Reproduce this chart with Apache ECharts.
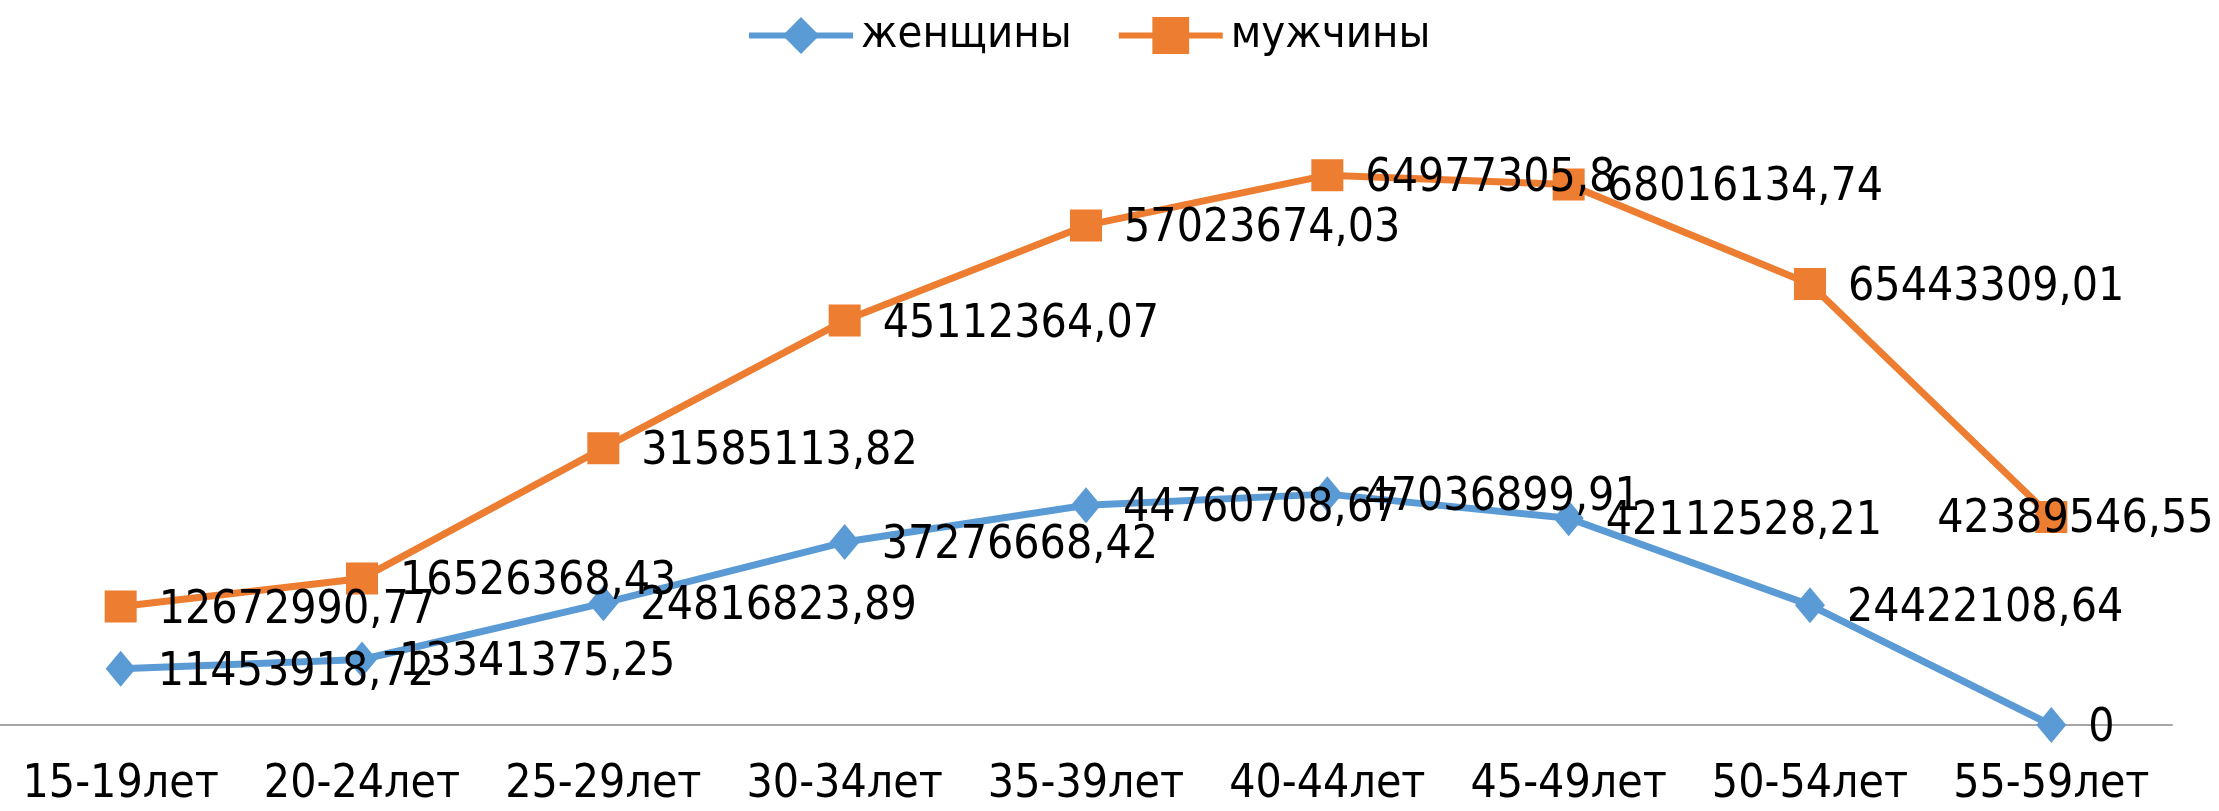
<!DOCTYPE html>
<html>
<head>
<meta charset="utf-8">
<script src="https://cdn.jsdelivr.net/npm/echarts@6/dist/echarts.min.js"></script>
<style>
  html, body { margin: 0; padding: 0; background: #fff; }
  #chart { width: 2219px; height: 811px; }
</style>
</head>
<body>
<div id="chart"></div>
<script>
// возрастные группы
var ageGroups = ['15-19лет', '20-24лет', '25-29лет', '30-34лет', '35-39лет', '40-44лет', '45-49лет', '50-54лет', '55-59лет'];
var women = [11453918.72, 13341375.25, 24816823.89, 37276668.42, 44760708.67, 47036899.91, 42112528.21, 24422108.64, 0];
var men = [12672990.77, 16526368.43, 31585113.82, 45112364.07, 57023674.03, 64977305.8, 68016134.74, 65443309.01, 42389546.55];

var FONT = "'Liberation Sans Narrow', 'DejaVu Sans Condensed', Roboto, sans-serif";

function fmt(p) {
    return String(p.value).replace('.', ',');
}

// последняя подпись не влезает справа - ставим её поверх маркера
var menData = men.map(function (v, i) {
    if (i === men.length - 1) {
        return { value: v, label: { position: 'inside', offset: [24, 3] } };
    }
    return v;
});

var chart = echarts.init(document.getElementById('chart'));

var labelStyle = {
    show: true, position: 'right', distance: 22, offset: [0, 4],
    fontFamily: FONT, fontSize: 46, color: '#000',
    formatter: fmt
};

var option = {
    animation: false,
    color: ['#5B9BD5', '#ED7D31'],
    legend: {
        top: 8,
        left: 741,
        itemWidth: 104,
        itemHeight: 46,
        itemGap: 44,
        lineStyle: { width: 6 },
        textStyle: { fontFamily: FONT, fontSize: 45, color: '#000', padding: [0, 0, 0, 3] }
    },
    grid: { left: 0, right: 47, top: 136, bottom: 86 },
    xAxis: {
        type: 'category',
        data: ageGroups,
        axisTick: { show: false },
        axisLine: { lineStyle: { color: '#a6a6a6', width: 2 } },
        axisLabel: { interval: 0, margin: 37, fontFamily: FONT, fontSize: 46, color: '#000' }
    },
    yAxis: {
        type: 'value',
        show: false,
        min: 0,
        max: 120000000
    },
    series: [
        {
            name: 'женщины',
            type: 'line',
            stack: 'total',
            data: women,
            symbol: 'diamond',
            symbolSize: [30, 36],
            lineStyle: { width: 7 },
            label: labelStyle
        },
        {
            name: 'мужчины',
            type: 'line',
            stack: 'total',
            data: menData,
            symbol: 'rect',
            symbolSize: 32,
            lineStyle: { width: 7 },
            label: labelStyle
        }
    ]
};

chart.setOption(option);
</script>
</body>
</html>
